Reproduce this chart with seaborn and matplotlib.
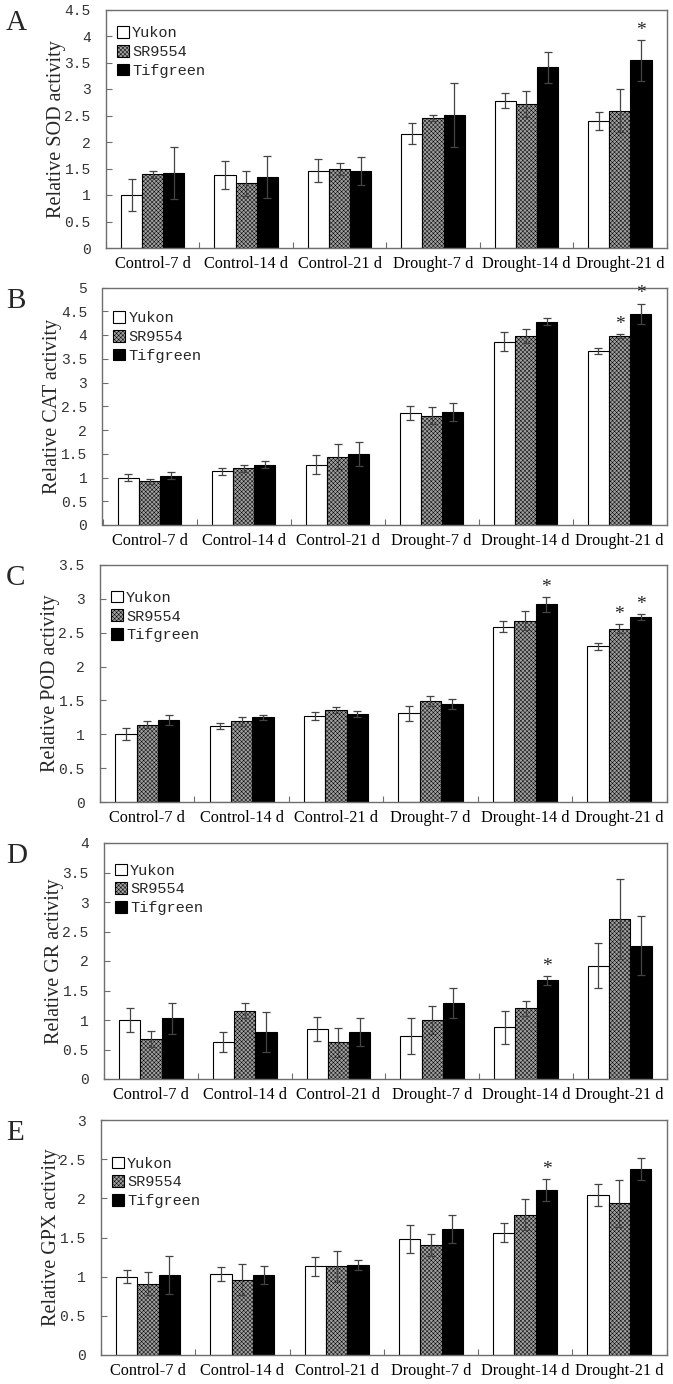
import numpy as np
import pandas as pd
import matplotlib
matplotlib.use("Agg")
import matplotlib.pyplot as plt
from matplotlib.patches import Patch
import seaborn as sns

categories = ["Control-7 d", "Control-14 d", "Control-21 d",
              "Drought-7 d", "Drought-14 d", "Drought-21 d"]
cultivars = ["Yukon", "SR9554", "Tifgreen"]

# SOD
sod_yukon = [1.00, 1.38, 1.46, 2.16, 2.78, 2.39]
sod_sr = [1.39, 1.22, 1.49, 2.45, 2.72, 2.59]
sod_tif = [1.42, 1.34, 1.45, 2.51, 3.41, 3.54]
sod_yukon_err = [0.31, 0.26, 0.21, 0.20, 0.14, 0.17]
sod_sr_err = [0.07, 0.24, 0.12, 0.06, 0.25, 0.41]
sod_tif_err = [0.49, 0.39, 0.26, 0.61, 0.29, 0.38]
# CAT
cat_yukon = [1.00, 1.13, 1.27, 2.36, 3.86, 3.66]
cat_sr = [0.92, 1.19, 1.44, 2.30, 3.98, 3.98]
cat_tif = [1.04, 1.27, 1.50, 2.38, 4.28, 4.45]
cat_yukon_err = [0.07, 0.07, 0.20, 0.15, 0.20, 0.07]
cat_sr_err = [0.05, 0.08, 0.26, 0.18, 0.14, 0.04]
cat_tif_err = [0.08, 0.08, 0.25, 0.18, 0.07, 0.21]
# POD
pod_yukon = [1.00, 1.12, 1.27, 1.31, 2.59, 2.30]
pod_sr = [1.14, 1.19, 1.36, 1.49, 2.68, 2.56]
pod_tif = [1.21, 1.25, 1.30, 1.45, 2.92, 2.73]
pod_yukon_err = [0.09, 0.04, 0.06, 0.11, 0.08, 0.05]
pod_sr_err = [0.05, 0.07, 0.04, 0.07, 0.14, 0.07]
pod_tif_err = [0.08, 0.04, 0.05, 0.07, 0.11, 0.04]
# GR
gr_yukon = [1.00, 0.63, 0.85, 0.73, 0.88, 1.92]
gr_sr = [0.68, 1.16, 0.62, 1.00, 1.20, 2.71]
gr_tif = [1.03, 0.80, 0.80, 1.29, 1.67, 2.26]
gr_yukon_err = [0.20, 0.17, 0.20, 0.31, 0.28, 0.38]
gr_sr_err = [0.13, 0.12, 0.24, 0.23, 0.13, 0.68]
gr_tif_err = [0.26, 0.34, 0.24, 0.25, 0.08, 0.50]
# GPX
gpx_yukon = [1.00, 1.03, 1.13, 1.48, 1.56, 2.04]
gpx_sr = [0.91, 0.96, 1.13, 1.41, 1.79, 1.94]
gpx_tif = [1.02, 1.02, 1.15, 1.61, 2.11, 2.37]
gpx_yukon_err = [0.08, 0.09, 0.12, 0.18, 0.12, 0.14]
gpx_sr_err = [0.15, 0.20, 0.20, 0.14, 0.20, 0.30]
gpx_tif_err = [0.24, 0.11, 0.06, 0.18, 0.14, 0.14]

# significance stars: (cultivar index, category index)
sod_stars = [(2, 5)]
cat_stars = [(1, 5), (2, 5)]
pod_stars = [(2, 4), (1, 5), (2, 5)]
gr_stars = [(2, 4)]
gpx_stars = [(2, 4)]

panels = [
    ("A", "Relative SOD activity", (sod_yukon, sod_sr, sod_tif),
     (sod_yukon_err, sod_sr_err, sod_tif_err), sod_stars, 4.5, 0.5),
    ("B", "Relative CAT activity", (cat_yukon, cat_sr, cat_tif),
     (cat_yukon_err, cat_sr_err, cat_tif_err), cat_stars, 5.0, 0.5),
    ("C", "Relative POD activity", (pod_yukon, pod_sr, pod_tif),
     (pod_yukon_err, pod_sr_err, pod_tif_err), pod_stars, 3.5, 0.5),
    ("D", "Relative GR activity", (gr_yukon, gr_sr, gr_tif),
     (gr_yukon_err, gr_sr_err, gr_tif_err), gr_stars, 4.0, 0.5),
    ("E", "Relative GPX activity", (gpx_yukon, gpx_sr, gpx_tif),
     (gpx_yukon_err, gpx_sr_err, gpx_tif_err), gpx_stars, 3.0, 0.5),
]

sns.set_theme(style="white")
plt.rcParams["font.family"] = ["Liberation Serif", "DejaVu Serif"]
plt.rcParams["hatch.linewidth"] = 0.35

colors = {"Yukon": "#ffffff", "SR9554": "#a0a0a0", "Tifgreen": "#000000"}
frame_color = "#6e6e6e"
sr_hatch = "xxxxxxxx"

fig = plt.figure(figsize=(6.73, 13.84), dpi=100)
W, H = 673.0, 1384.0
tops = [9.5, 287.5, 565.0, 843.0, 1120.0]
bottoms = [248.0, 525.0, 802.0, 1079.0, 1355.0]
lefts = [106.0, 102.5, 100.0, 104.0, 101.0]
right = 666.5
legend_offsets = [22, 29, 31, 26, 42]

for i, (letter, ylabel, vals, errs, stars, ymax, step) in enumerate(panels):
    ax_h = bottoms[i] - tops[i]
    ax = fig.add_axes([lefts[i] / W, 1 - bottoms[i] / H,
                       (right - lefts[i]) / W, ax_h / H])
    rows = []
    for cname, v in zip(cultivars, vals):
        for cat, val in zip(categories, v):
            rows.append({"cat": cat, "cultivar": cname, "val": val})
    df = pd.DataFrame(rows)
    sns.barplot(data=df, x="cat", y="val", hue="cultivar", order=categories,
                hue_order=cultivars, palette=colors, width=0.68, gap=0,
                edgecolor="black", linewidth=0.8, errorbar=None, ax=ax,
                legend=False)
    bar_conts = list(ax.containers)
    for ci, cont in enumerate(bar_conts):
        xs = [p.get_x() + p.get_width() / 2 for p in cont.patches]
        ax.errorbar(xs, vals[ci], yerr=errs[ci], fmt="none",
                    ecolor="#444444", elinewidth=0.9, capsize=3.2,
                    capthick=0.9, zorder=5)
        if ci == 1:
            for p in cont.patches:
                p.set_hatch(sr_hatch)
                p.set_edgecolor("black")
    for (ci, k) in stars:
        p = bar_conts[ci].patches[k]
        x = p.get_x() + p.get_width() / 2
        y = vals[ci][k] + errs[ci][k]
        ax.text(x, y + 0.005 * ymax, "*", ha="center", va="bottom",
                fontsize=14, color="#222222", fontfamily="Liberation Serif")

    ax.set_xlim(-0.5, 5.5)
    ax.set_ylim(0, ymax)
    yt = np.arange(0, ymax + 1e-9, step)
    ax.set_yticks(yt)
    ax.set_yticklabels([("%g" % t) for t in yt],
                       fontfamily="Liberation Mono", fontsize=10.5, color="#333333")
    ax.set_xticks(range(len(categories)))
    ax.set_xticklabels(categories, fontsize=11.7, color="black")
    ax.set_xticks(np.arange(-0.5, 5.6, 1.0), minor=True)
    ax.tick_params(axis="x", which="major", length=0, pad=6)
    ax.tick_params(axis="x", which="minor", direction="in", length=4,
                   width=0.8, color=frame_color, bottom=True)
    ax.tick_params(axis="y", which="major", direction="in", length=4,
                   width=0.8, color=frame_color, left=True, pad=11)
    for s in ax.spines.values():
        s.set_visible(True)
        s.set_color(frame_color)
        s.set_linewidth(1.0)
    ax.set_xlabel("")
    ax.set_ylabel(ylabel, fontsize=14.5, labelpad=-1)
    ax.grid(False)

    handles = [Patch(facecolor=colors[c], edgecolor="black", linewidth=0.8,
                     hatch=(sr_hatch if c == "SR9554" else None))
               for c in cultivars]
    ax.legend(handles, cultivars, loc="upper left", frameon=False,
              prop={"family": "Liberation Mono", "size": 11},
              handlelength=0.8, handleheight=0.8, handletextpad=0.2,
              labelspacing=0.3, borderaxespad=0.3,
              bbox_to_anchor=(0.0, 0.975 - (legend_offsets[i] - 22) / ax_h))

    fig.text(6 / W, 1 - (tops[i] + 13) / H, letter, fontsize=21,
             fontfamily="Liberation Serif", ha="left", va="center")

fig.savefig("out.png", dpi=100)
